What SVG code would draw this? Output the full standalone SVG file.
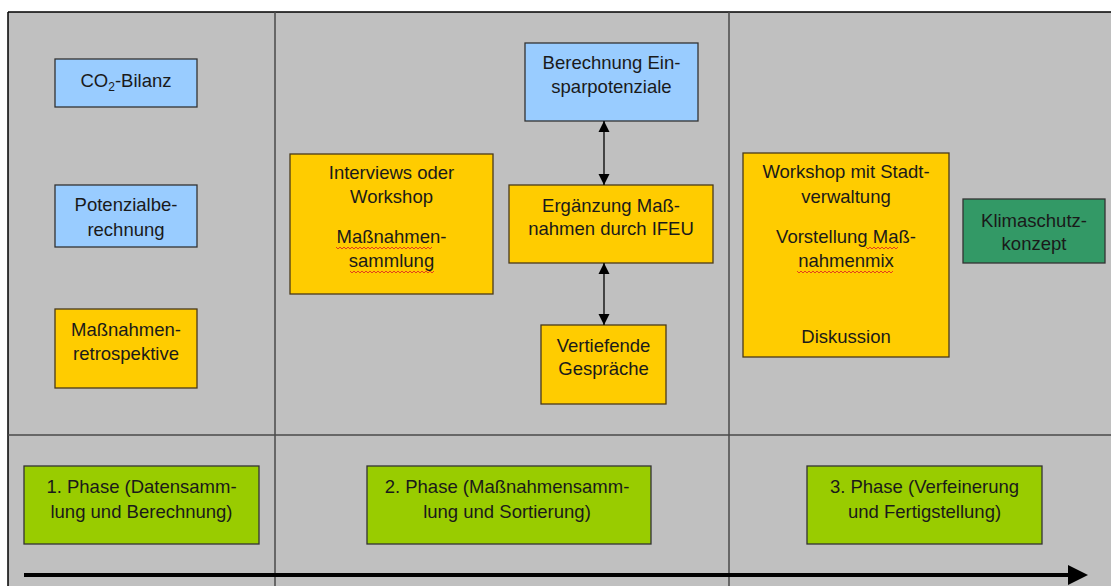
<svg xmlns="http://www.w3.org/2000/svg" width="1111" height="586" viewBox="0 0 1111 586">
<defs>
<style>
.t{font-family:"Liberation Sans",Arial,sans-serif;font-size:18.5px;fill:#1a1a1a;text-anchor:middle}
.box{stroke:#333;stroke-width:1.3}
.blue{fill:#99CCFF}
.yel{fill:#FFCC00;stroke:#4a3a1a}
.grn{fill:#99CC00}
.dg{fill:#339966}
.sq{fill:none;stroke:#e03020;stroke-width:0.9}
.div{stroke:#4a4a4a;stroke-width:1.5}
</style>
<marker id="ah" viewBox="0 0 10 10" refX="10" refY="5" markerWidth="11" markerHeight="12" markerUnits="userSpaceOnUse" orient="auto-start-reverse">
<path d="M0,0 L10,5 L0,10 z" fill="#000"/>
</marker>
</defs>
<rect x="0" y="0" width="1111" height="586" fill="#ffffff"/>
<rect x="8" y="12" width="1103" height="574" fill="#C0C0C0"/>
<g id="frame">
<line x1="8" y1="12" x2="1111" y2="12" stroke="#000" stroke-width="1.5"/>
<line x1="8" y1="12" x2="8" y2="586" stroke="#000" stroke-width="1.5"/>
<line class="div" x1="275" y1="12" x2="275" y2="586"/>
<line class="div" x1="729" y1="12" x2="729" y2="586"/>
<line class="div" x1="8" y1="435" x2="1111" y2="435"/>
</g>
<g id="n-co2">
<rect class="box blue" x="55" y="59" width="142" height="48"/>
<text class="t" x="126" y="87">CO<tspan font-size="12" dy="4">2</tspan><tspan dy="-4">-Bilanz</tspan></text>
</g>
<g id="n-potenzial">
<rect class="box blue" x="55" y="185" width="142" height="62"/>
<text class="t" x="126" y="211">Potenzialbe-</text>
<text class="t" x="126" y="236">rechnung</text>
</g>
<g id="n-retro">
<rect class="box yel" x="55" y="309" width="142" height="79"/>
<text class="t" x="126" y="336">Maßnahmen-</text>
<text class="t" x="126" y="360">retrospektive</text>
</g>
<g id="n-interviews">
<rect class="box yel" x="290" y="154" width="203" height="140"/>
<text class="t" x="391.5" y="179">Interviews oder</text>
<text class="t" x="391.5" y="203">Workshop</text>
<text class="t" x="391.5" y="243">Maßnahmen-</text>
<text class="t" x="391.5" y="267">sammlung</text>
<path class="sq" d="M336,247 l2,2 l2,-2 l2,2 l2,-2 l2,2 l2,-2 l2,2 l2,-2 l2,2 l2,-2 l2,2 l2,-2 l2,2 l2,-2 l2,2 l2,-2 l2,2 l2,-2 l2,2 l2,-2 l2,2 l2,-2 l2,2 l2,-2 l2,2 l2,-2 l2,2 l2,-2 l2,2 l2,-2 l2,2 l2,-2 l2,2 l2,-2 l2,2 l2,-2 l2,2 l2,-2 l2,2 l2,-2 l2,2 l2,-2 l2,2 l2,-2 l2,2 l2,-2 l2,2 l2,-2"/>
<path class="sq" d="M350,271 l2,2 l2,-2 l2,2 l2,-2 l2,2 l2,-2 l2,2 l2,-2 l2,2 l2,-2 l2,2 l2,-2 l2,2 l2,-2 l2,2 l2,-2 l2,2 l2,-2 l2,2 l2,-2 l2,2 l2,-2 l2,2 l2,-2 l2,2 l2,-2 l2,2 l2,-2 l2,2 l2,-2 l2,2 l2,-2 l2,2 l2,-2 l2,2 l2,-2 l2,2 l2,-2 l2,2 l2,-2 l2,2 l2,-2"/>
</g>
<g id="n-einspar">
<rect class="box blue" x="525" y="43" width="173" height="78"/>
<text class="t" x="611.5" y="69">Berechnung Ein-</text>
<text class="t" x="611.5" y="93">sparpotenziale</text>
</g>
<g id="n-ergaenzung">
<rect class="box yel" x="509" y="185" width="204" height="78"/>
<text class="t" x="611" y="212">Ergänzung Maß-</text>
<text class="t" x="611" y="235">nahmen durch IFEU</text>
</g>
<g id="n-vertiefend">
<rect class="box yel" x="541" y="325" width="125" height="79"/>
<text class="t" x="603.5" y="352">Vertiefende</text>
<text class="t" x="603.5" y="375">Gespräche</text>
</g>
<g id="n-workshop">
<rect class="box yel" x="743" y="153" width="206" height="204"/>
<text class="t" x="846" y="178">Workshop mit Stadt-</text>
<text class="t" x="846" y="203">verwaltung</text>
<text class="t" x="846" y="243">Vorstellung Maß-</text>
<text class="t" x="846" y="267">nahmenmix</text>
<text class="t" x="846" y="343">Diskussion</text>
<path class="sq" d="M866,247 l2,2 l2,-2 l2,2 l2,-2 l2,2 l2,-2 l2,2 l2,-2 l2,2 l2,-2 l2,2 l2,-2 l2,2 l2,-2 l2,2 l2,-2"/>
<path class="sq" d="M797,271 l2,2 l2,-2 l2,2 l2,-2 l2,2 l2,-2 l2,2 l2,-2 l2,2 l2,-2 l2,2 l2,-2 l2,2 l2,-2 l2,2 l2,-2 l2,2 l2,-2 l2,2 l2,-2 l2,2 l2,-2 l2,2 l2,-2 l2,2 l2,-2 l2,2 l2,-2 l2,2 l2,-2 l2,2 l2,-2 l2,2 l2,-2 l2,2 l2,-2 l2,2 l2,-2 l2,2 l2,-2 l2,2 l2,-2 l2,2 l2,-2 l2,2 l2,-2 l2,2 l2,-2"/>
</g>
<g id="n-klima">
<rect class="box dg" x="963" y="199" width="142" height="64"/>
<text class="t" x="1034" y="227">Klimaschutz-</text>
<text class="t" x="1034" y="250">konzept</text>
</g>
<g id="n-phase1">
<rect class="box grn" x="24" y="466" width="235" height="78"/>
<text class="t" x="141.5" y="493">1. Phase (Datensamm-</text>
<text class="t" x="141.5" y="518">lung und Berechnung)</text>
</g>
<g id="n-phase2">
<rect class="box grn" x="367" y="466" width="284" height="78"/>
<text class="t" x="507" y="493">2. Phase (Maßnahmensamm-</text>
<text class="t" x="507" y="518">lung und Sortierung)</text>
</g>
<g id="n-phase3">
<rect class="box grn" x="807" y="466" width="235" height="78"/>
<text class="t" x="924.5" y="493">3. Phase (Verfeinerung</text>
<text class="t" x="924.5" y="518">und Fertigstellung)</text>
</g>
<g id="connectors" stroke="#000" fill="none">
<line x1="604" y1="121" x2="604" y2="185" stroke-width="1.3" marker-start="url(#ah)" marker-end="url(#ah)"/>
<line x1="604" y1="263" x2="604" y2="325" stroke-width="1.3" marker-start="url(#ah)" marker-end="url(#ah)"/>
<line x1="24" y1="575" x2="1070" y2="575" stroke-width="4"/>
<polygon points="1068,565 1088,575 1068,585" fill="#000" stroke="none"/>
</g>
</svg>
